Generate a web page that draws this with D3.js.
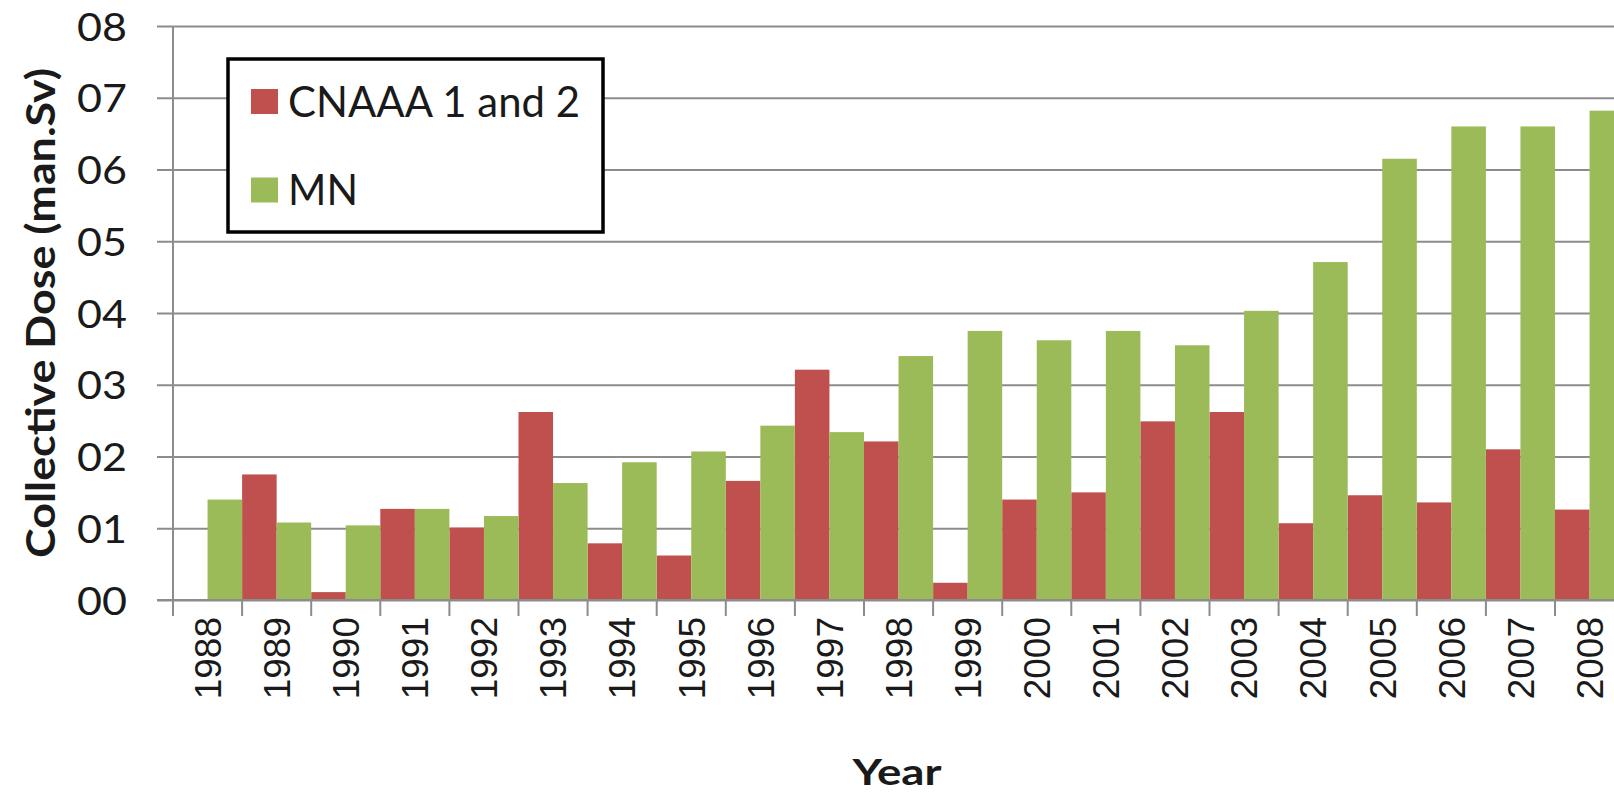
<!DOCTYPE html>
<html>
<head>
<meta charset="utf-8">
<script src="https://cdn.jsdelivr.net/npm/d3@7"></script>
<style>
  html, body { margin: 0; padding: 0; background: #fff; }
  svg { display: block; }
</style>
</head>
<body>
<svg id="chart" width="1614" height="793"></svg>
<script>
// Annual collective dose per plant, 1988-2008
const years = [1988, 1989, 1990, 1991, 1992, 1993, 1994, 1995, 1996, 1997, 1998,
               1999, 2000, 2001, 2002, 2003, 2004, 2005, 2006, 2007, 2008];
const cnaaa = [null, 1.75, 0.11, 1.27, 1.01, 2.62, 0.79, 0.62, 1.66, 3.21, 2.21,
               0.24, 1.40, 1.50, 2.49, 2.62, 1.07, 1.46, 1.36, 2.10, 1.26];
const mn    = [1.40, 1.08, 1.04, 1.27, 1.17, 1.63, 1.92, 2.07, 2.43, 2.34, 3.40,
               3.75, 3.62, 3.75, 3.55, 4.03, 4.71, 6.15, 6.60, 6.60, 6.82];
const yTickValues = [0, 1, 2, 3, 4, 5, 6, 7, 8];
const yTickLabels = ["00", "01", "02", "03", "04", "05", "06", "07", "08"];
const seriesNames = ["CNAAA 1 and 2", "MN"];
const seriesColors = ["#C0504D", "#9BBB59"];

const svg = d3.select("#chart");
const plotLeft = 173, plotTop = 26, plotBottom = 600;
const step = 69.1;
const plotRight = plotLeft + years.length * step;   // plot runs past the right edge

const x = d3.scaleBand().domain(years).range([plotLeft, plotRight]).padding(0);
const xSub = d3.scaleBand().domain([0, 1]).range([0, x.bandwidth()]).padding(0);
const y = d3.scaleLinear().domain([0, 8]).range([plotBottom, plotTop]);

// horizontal gridlines + left ticks
const yAxis = d3.axisLeft(y)
  .tickValues(yTickValues)
  .tickFormat((d, i) => yTickLabels[i])
  .tickSize(0);
const gy = svg.append("g").attr("transform", `translate(${plotLeft},0)`).call(yAxis);
gy.select(".domain").remove();
gy.selectAll(".tick line")
  .attr("x1", -16).attr("x2", plotRight - plotLeft)
  .attr("stroke", "#8c8c8c").attr("stroke-width", 2);
gy.selectAll(".tick text")
  .attr("x", -46)
  .attr("dy", "0.36em")
  .attr("font-family", "Lato, 'Open Sans', sans-serif")
  .attr("font-size", 39)
  .attr("fill", "#1a1a1a")
  .attr("textLength", 50)
  .attr("lengthAdjust", "spacingAndGlyphs");

// bars
const series = [cnaaa, mn];
series.forEach((vals, s) => {
  svg.append("g").selectAll("rect")
    .data(years.map((yr, i) => ({ yr, v: vals[i] })).filter(d => d.v != null))
    .join("rect")
    .attr("x", d => x(d.yr) + xSub(s))
    .attr("width", xSub.bandwidth())
    .attr("y", d => y(d.v))
    .attr("height", d => y(0) - y(d.v))
    .attr("fill", seriesColors[s]);
});

// vertical axis line and x axis line
svg.append("line")
  .attr("x1", plotLeft).attr("x2", plotLeft).attr("y1", y(8)).attr("y2", plotBottom + 16)
  .attr("stroke", "#8c8c8c").attr("stroke-width", 2);
svg.append("line")
  .attr("x1", plotLeft - 16).attr("x2", plotRight).attr("y1", plotBottom).attr("y2", plotBottom)
  .attr("stroke", "#8c8c8c").attr("stroke-width", 2);

// category boundary ticks
const bounds = years.map(yr => x(yr)).concat([plotRight]);
svg.append("g").selectAll("line")
  .data(bounds)
  .join("line")
  .attr("x1", d => d).attr("x2", d => d)
  .attr("y1", plotBottom).attr("y2", plotBottom + 16)
  .attr("stroke", "#8c8c8c").attr("stroke-width", 2);

// year labels, rotated
const xAxis = d3.axisBottom(x).tickSize(0).tickPadding(0);
const gx = svg.append("g").attr("transform", `translate(0,${plotBottom})`).call(xAxis);
gx.select(".domain").remove();
gx.selectAll(".tick text")
  .attr("transform", "rotate(-90)")
  .attr("x", -17)
  .attr("y", 0)
  .attr("dy", "0.36em")
  .attr("text-anchor", "end")
  .attr("font-family", "'Liberation Sans', Arial, sans-serif")
  .attr("font-size", 37)
  .attr("fill", "#1a1a1a");

// axis titles
svg.append("text")
  .attr("x", 897).attr("y", 785)
  .attr("text-anchor", "middle")
  .attr("font-family", "Lato, sans-serif")
  .attr("font-weight", "bold")
  .attr("font-size", 37)
  .attr("fill", "#1a1a1a")
  .attr("textLength", 89)
  .attr("lengthAdjust", "spacingAndGlyphs")
  .text("Year");

svg.append("text")
  .attr("transform", "translate(55,313) rotate(-90)")
  .attr("text-anchor", "middle")
  .attr("font-family", "Lato, sans-serif")
  .attr("font-weight", "bold")
  .attr("font-size", 41)
  .attr("fill", "#1a1a1a")
  .attr("textLength", 490)
  .attr("lengthAdjust", "spacingAndGlyphs")
  .text("Collective Dose (man.Sv)");

// legend
const lg = svg.append("g");
lg.append("rect")
  .attr("x", 228).attr("y", 59).attr("width", 375).attr("height", 173)
  .attr("fill", "#fff").attr("stroke", "#000").attr("stroke-width", 3.5);
const legendBase = [116.5, 205];
const legendWidths = [292, 70];
seriesNames.forEach((name, i) => {
  lg.append("rect")
    .attr("x", 251).attr("y", legendBase[i] - 27.5).attr("width", 27).attr("height", 25)
    .attr("fill", seriesColors[i]);
  lg.append("text")
    .attr("x", 288).attr("y", legendBase[i])
    .attr("font-family", "Lato, sans-serif")
    .attr("font-size", 42)
    .attr("fill", "#1a1a1a")
    .attr("textLength", legendWidths[i])
    .attr("lengthAdjust", "spacingAndGlyphs")
    .text(name);
});
</script>
</body>
</html>
